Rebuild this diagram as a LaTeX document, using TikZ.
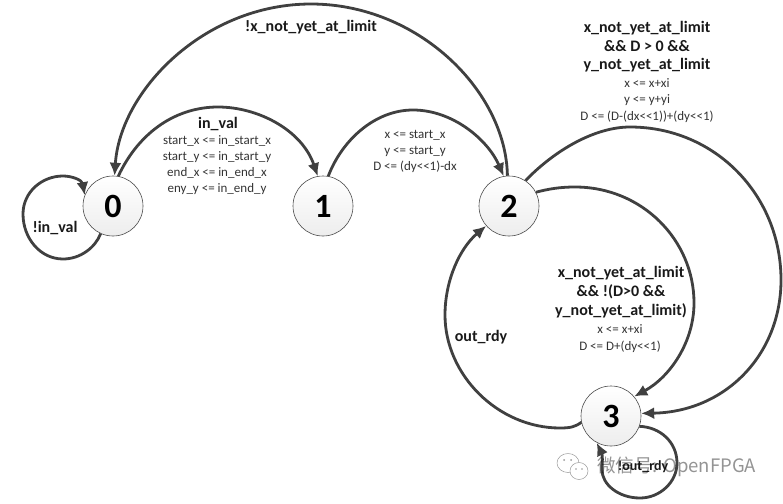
\documentclass[tikz,border=0pt]{standalone}
\usepackage{fontspec}
\setmainfont[Ligatures=TeXOff]{Carlito}
\newfontfamily\cjk{Noto Sans CJK SC}
\usetikzlibrary{arrows.meta}
\definecolor{edgecol}{HTML}{404040}
\tikzset{
  state/.style={circle,draw=black!70,line width=0.6pt,minimum size=60pt,inner sep=0pt,
    top color=white,bottom color=black!7,font=\fontsize{34}{34}\selectfont\bfseries},
  trans/.style={draw=edgecol,line width=2.8pt,-{Latex[length=13pt,width=12pt]}},
  cond/.style={font=\fontsize{16}{16}\selectfont\bfseries,inner sep=0pt,text=black!90},
  act/.style={font=\fontsize{13}{13}\selectfont,inner sep=0pt,text=black!80},
}
\begin{document}
\begin{tikzpicture}[x=1pt,y=-1pt]
\useasboundingbox (0,0) rectangle (783,503);
\node[state] (n0) at (113,206) {0};
\node[state] (n1) at (323,206) {1};
\node[state] (n2) at (509,206) {2};
\node[state] (n3) at (611,416) {3};
% edges
\draw[trans] (n2.93) .. controls (506,91) and (418,4) .. (311,4) .. controls (204,4) and (120,91) .. (n0.87);
\draw[trans] (n0.80) .. controls (140,130) and (178,107) .. (218,107) .. controls (258,107) and (302,130) .. (n1.100);
\draw[trans] (n1.80) .. controls (342,140) and (375,110) .. (413,110) .. controls (453,110) and (488,140) .. (n2.100);
\draw[trans] (n2.57) .. controls (555,150) and (595,127) .. (630,127) .. controls (715,127) and (781,195) .. (781,280) .. controls (781,355) and (725,412) .. (n3.5);
\draw[trans] (n2.27) .. controls (548,189) and (560,187) .. (575,187) .. controls (642,187) and (694,240) .. (694,303) .. controls (694,342) and (670,377) .. (n3.40);
\draw[trans] (n3.192) .. controls (575,427) and (570,428) .. (560,428) .. controls (498,428) and (445,375) .. (445,315) .. controls (445,280) and (460,248) .. (n2.221);
\draw[trans] (n3.-20) .. controls (660,427) and (677,442) .. (677,463) .. controls (677,482) and (660,498) .. (640,498) .. controls (618,498) and (602,484) .. (602,470) .. controls (602,462) and (603,456) .. (n3.-118);
\draw[trans] (n0.-114) .. controls (95,248) and (80,259) .. (63,259) .. controls (40,259) and (23,238) .. (23,214) .. controls (23,192) and (42,176) .. (63,176) .. controls (72,176) and (82,180) .. (n0.159);
% labels
\node[cond] (l1) at (311,27) {!x\_not\_yet\_at\_limit};
\node[cond] (l2) at (218,124) {in\_val};
\node[act] (a1) at (217,141) {start\_x <= in\_start\_x};
\node[act] (a2) at (217,157) {start\_y <= in\_start\_y};
\node[act] (a3) at (217,173) {end\_x <= in\_end\_x};
\node[act] (a4) at (217,189) {eny\_y <= in\_end\_y};
\node[act] (b1) at (415,135) {x <= start\_x};
\node[act] (b2) at (415,151) {y <= start\_y};
\node[act] (b3) at (415,167) {D <= (dy<<1)-dx};
\node[cond] (c1) at (647,28) {x\_not\_yet\_at\_limit};
\node[cond] (c2) at (647,46) {\&\& D > 0 \&\&};
\node[cond] (c3) at (647,65) {y\_not\_yet\_at\_limit};
\node[act] (c4) at (647,83) {x <= x+xi};
\node[act] (c5) at (647,100) {y <= y+yi};
\node[act] (c6) at (647,117) {D <= (D-(dx<<1))+(dy<<1)};
\node[cond] (d1) at (621,273) {x\_not\_yet\_at\_limit};
\node[cond] (d2) at (621,292) {\&\& !(D>0 \&\&};
\node[cond] (d3) at (621,311) {y\_not\_yet\_at\_limit)};
\node[act] (d4) at (620,329) {x <= x+xi};
\node[act] (d5) at (620,347) {D <= D+(dy<<1)};
\node[cond] (e1) at (481,337) {out\_rdy};
\node[cond] (e2) at (55,228) {!in\_val};
\node[cond,font=\fontsize{14}{14}\selectfont\bfseries] (e3) at (643,467) {!out\_rdy};
% watermark
\node[inner sep=0pt,anchor=west,font=\fontsize{18.5}{18.5}\selectfont\cjk,text=black,text opacity=0.42] (wm) at (597,467) {微信号: OpenFPGA};
\draw[black!40,fill=white,line width=0.5pt] (568,463) ellipse (11pt and 9.5pt);
\draw[black!40,fill=white,line width=0.5pt] (579,471) ellipse (9pt and 8.5pt);
\fill[black!40] (564,460) circle (1pt) (571,460) circle (1pt) (576,469) circle (0.9pt) (582,469) circle (0.9pt);
\end{tikzpicture}
\end{document}
